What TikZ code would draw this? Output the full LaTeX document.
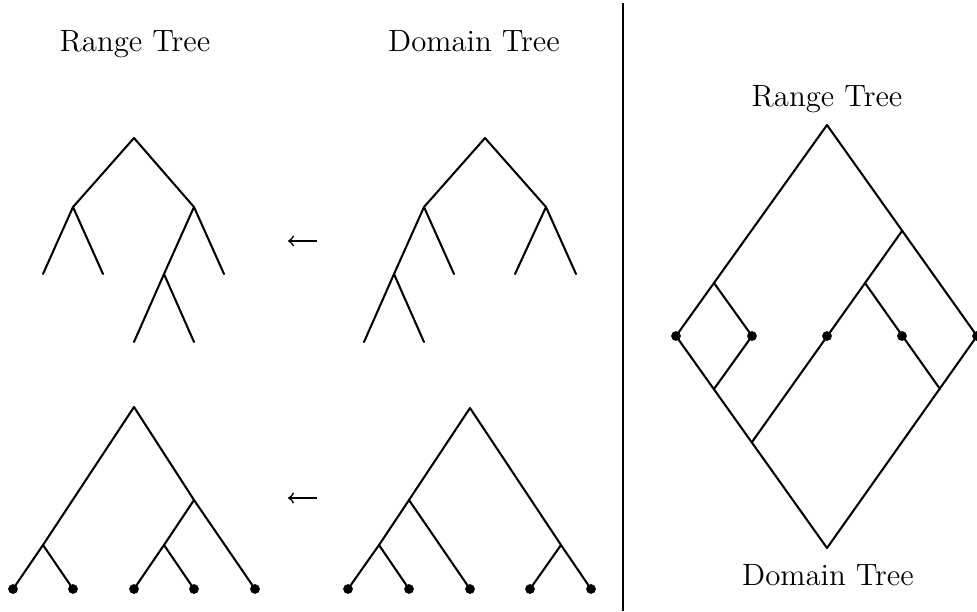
\documentclass[tikz,border=0pt]{standalone}
\begin{document}
\begin{tikzpicture}[x=0.389pt,y=-0.389pt,
  edge/.style={line width=0.8pt,line cap=round,line join=round},
  leafdot/.style={circle,fill=black,inner sep=0pt,minimum size=3.8pt},
  title/.style={anchor=base,inner sep=0pt,font=\large},
  maparrow/.style={line width=0.65pt,-to}]
\useasboundingbox (0,0) rectangle (977,611);

% titles
\node[title] (tRL) at (135,51) {Range Tree};
\node[title] (tDL) at (474,51) {Domain Tree};
\node[title] (tRR) at (827,106) {Range Tree};
\node[title] (tDR) at (828,585) {Domain Tree};

% ---- top-left tree
\coordinate (r1) at (134,138);
\coordinate (a1) at (73,207);
\coordinate (b1) at (194,207);
\coordinate (a1l) at (43,274);
\coordinate (a1r) at (103,274);
\coordinate (b1l) at (164,274);
\coordinate (b1r) at (224,274);
\coordinate (c1l) at (134,342);
\coordinate (c1r) at (194,342);
\draw[edge] (a1l) -- (a1) -- (r1) -- (b1) -- (b1r);
\draw[edge] (a1) -- (a1r);
\draw[edge] (b1) -- (b1l) -- (c1l);
\draw[edge] (b1l) -- (c1r);

% ---- top-right tree
\coordinate (r2) at (485,138);
\coordinate (a2) at (424,207);
\coordinate (b2) at (546,207);
\coordinate (a2l) at (394,274);
\coordinate (a2r) at (454,274);
\coordinate (b2l) at (515,274);
\coordinate (b2r) at (576,274);
\coordinate (c2l) at (364,342);
\coordinate (c2r) at (424,342);
\draw[edge] (b2r) -- (b2) -- (r2) -- (a2) -- (a2l) -- (c2l);
\draw[edge] (a2) -- (a2r);
\draw[edge] (b2) -- (b2l);
\draw[edge] (a2l) -- (c2r);

% ---- bottom-left tree
\coordinate (r3) at (134,407);
\coordinate (x3) at (43,545);
\coordinate (y3) at (194,500);
\coordinate (z3) at (164,545);
\node[leafdot] (l31) at (13,589) {};
\node[leafdot] (l32) at (73,589) {};
\node[leafdot] (l33) at (134,589) {};
\node[leafdot] (l34) at (194,589) {};
\node[leafdot] (l35) at (255,589) {};
\draw[edge] (l31.center) -- (x3) -- (r3) -- (y3) -- (l35.center);
\draw[edge] (x3) -- (l32.center);
\draw[edge] (y3) -- (z3) -- (l33.center);
\draw[edge] (z3) -- (l34.center);

% ---- bottom-right tree
\coordinate (r4) at (470,408);
\coordinate (p4) at (409,500);
\coordinate (q4) at (379,545);
\coordinate (s4) at (561,545);
\node[leafdot] (l41) at (348,589) {};
\node[leafdot] (l42) at (409,589) {};
\node[leafdot] (l43) at (470,589) {};
\node[leafdot] (l44) at (530,589) {};
\node[leafdot] (l45) at (591,589) {};
\draw[edge] (l41.center) -- (q4) -- (p4) -- (r4) -- (s4) -- (l45.center);
\draw[edge] (q4) -- (l42.center);
\draw[edge] (p4) -- (l43.center);
\draw[edge] (s4) -- (l44.center);

% ---- arrows
\coordinate (m1s) at (317,241);
\coordinate (m1e) at (288,241);
\coordinate (m2s) at (317,498);
\coordinate (m2e) at (288,498);
\draw[maparrow] (m1s) -- (m1e);
\draw[maparrow] (m2s) -- (m2e);

% ---- divider
\coordinate (vt) at (623,3);
\coordinate (vb) at (623,611);
\draw[line width=0.8pt] (vt) -- (vb);

% ---- diamond
\coordinate (T) at (827,125);
\coordinate (B) at (827,548);
\node[leafdot] (L) at (676,336) {};
\node[leafdot] (R) at (977,336) {};
\node[leafdot] (d2) at (752,336) {};
\node[leafdot] (d3) at (827,336) {};
\node[leafdot] (d4) at (902,336) {};
\coordinate (e1) at (714,283);
\coordinate (e2) at (714,389);
\coordinate (f1) at (902,231);
\coordinate (f2) at (752,442);
\coordinate (g1) at (865,283);
\coordinate (g2) at (940,389);
\draw[edge] (T) -- (L.center) -- (B) -- (R.center) -- cycle;
\draw[edge] (e1) -- (d2.center) -- (e2);
\draw[edge] (f1) -- (f2);
\draw[edge] (g1) -- (g2);
\end{tikzpicture}
\end{document}
